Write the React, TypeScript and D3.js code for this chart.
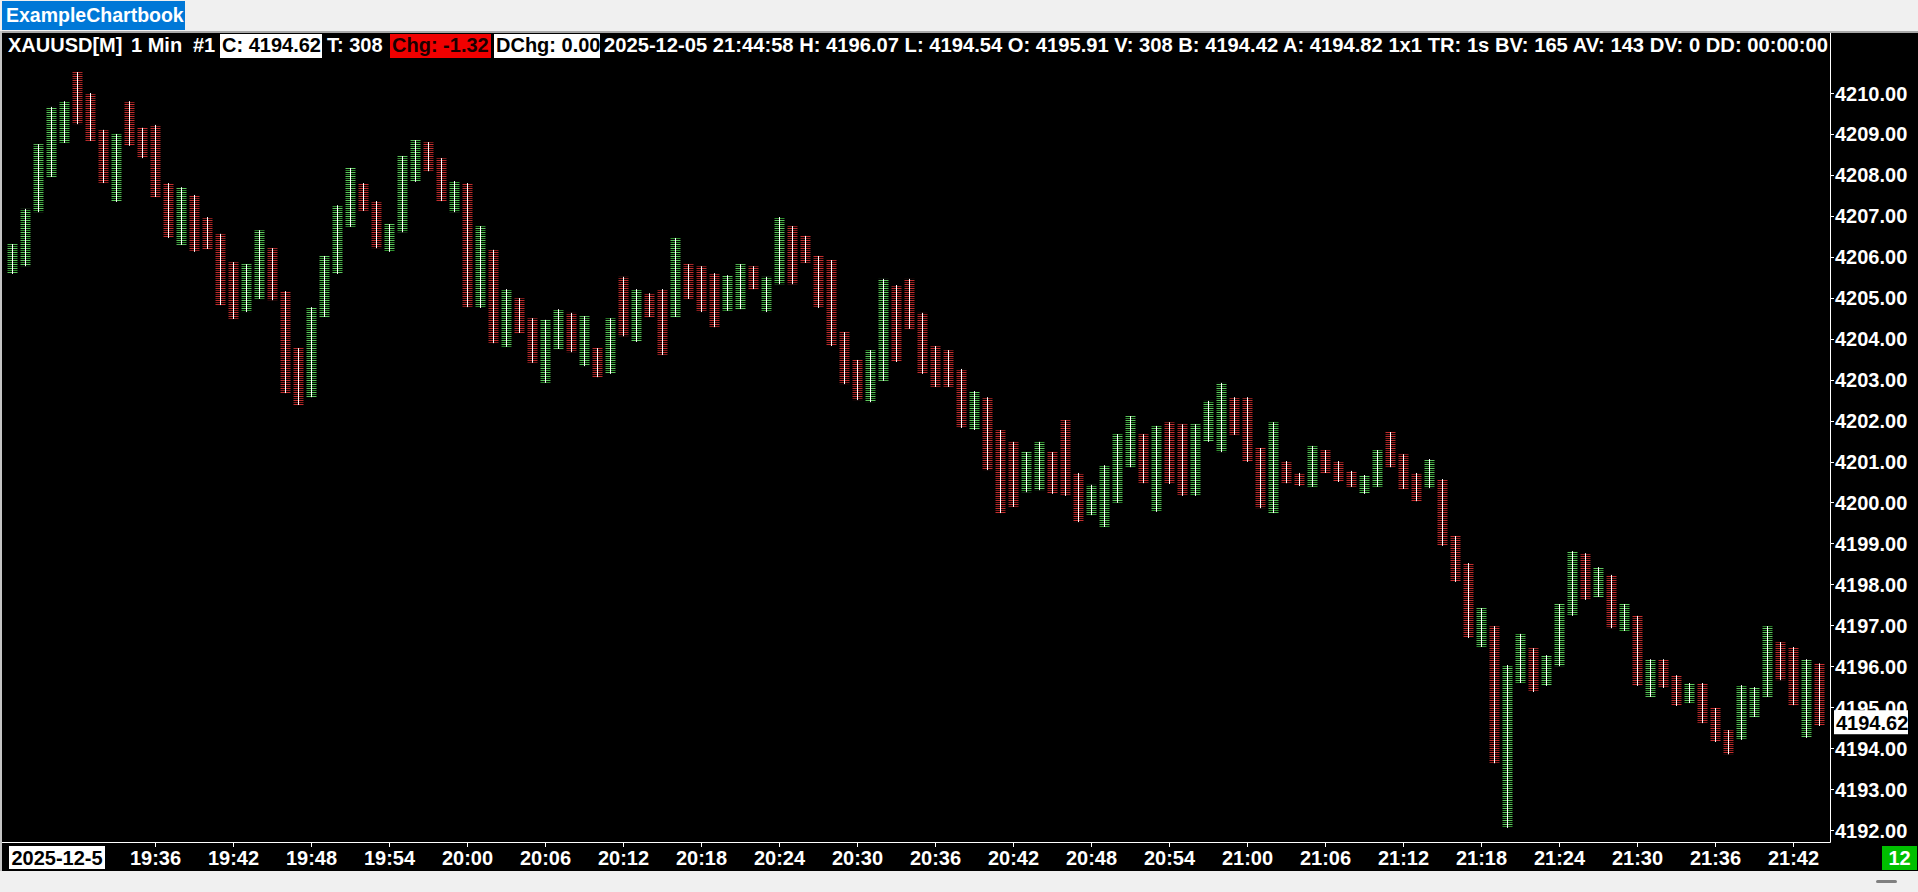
import React from 'react';
import * as d3 from 'd3';

// ---- categories: one bar per minute, 19:25 .. 21:44 ----
const startMinute = 19 * 60 + 25;
const barCount = 140;
const times: string[] = Array.from({ length: barCount }, (_, i) => {
  const m = startMinute + i;
  return `${Math.floor(m / 60)}:${String(m % 60).padStart(2, '0')}`;
});

// ---- series values ----
const highs: number[] = [
  4206.31, 4207.17, 4208.75, 4209.66, 4209.80, 4210.51, 4210.00, 4209.10, 4209.00, 4209.80,
  4209.15, 4209.22, 4207.80, 4207.70, 4207.51, 4206.97, 4206.56, 4205.87, 4205.82, 4206.65,
  4206.21, 4205.16, 4203.77, 4204.77, 4206.02, 4207.26, 4208.17, 4207.80, 4207.36, 4206.80,
  4208.46, 4208.85, 4208.80, 4208.41, 4207.85, 4207.80, 4206.75, 4206.17, 4205.21, 4204.99,
  4204.50, 4204.46, 4204.72, 4204.63, 4204.55, 4203.77, 4204.50, 4205.51, 4205.21, 4205.11,
  4205.21, 4206.46, 4205.82, 4205.77, 4205.60, 4205.55, 4205.82, 4205.77, 4205.51, 4206.97,
  4206.75, 4206.51, 4206.02, 4205.92, 4204.16, 4203.48, 4203.72, 4205.46, 4205.31, 4205.46,
  4204.63, 4203.82, 4203.72, 4203.26, 4202.72, 4202.57, 4201.77, 4201.48, 4201.23, 4201.48,
  4201.23, 4202.01, 4200.72, 4200.43, 4200.91, 4201.67, 4202.11, 4201.67, 4201.87, 4201.96,
  4201.91, 4201.91, 4202.48, 4202.92, 4202.57, 4202.57, 4201.33, 4201.96, 4201.01, 4200.72,
  4201.38, 4201.28, 4201.01, 4200.77, 4200.67, 4201.28, 4201.72, 4201.18, 4200.72, 4201.06,
  4200.57, 4199.18, 4198.52, 4197.42, 4196.98, 4196.03, 4196.79, 4196.44, 4196.27, 4197.52,
  4198.81, 4198.76, 4198.42, 4198.23, 4197.52, 4197.23, 4196.17, 4196.17, 4195.78, 4195.59,
  4195.59, 4194.98, 4194.44, 4195.54, 4195.49, 4196.98, 4196.59, 4196.47, 4196.17, 4196.07,
];

const lows: number[] = [
  4205.58, 4205.77, 4207.09, 4207.95, 4208.78, 4209.24, 4208.83, 4207.80, 4207.34, 4208.71,
  4208.41, 4207.46, 4206.46, 4206.29, 4206.12, 4206.19, 4204.82, 4204.48, 4204.65, 4204.97,
  4204.94, 4202.67, 4202.38, 4202.57, 4204.53, 4205.58, 4206.73, 4207.12, 4206.21, 4206.12,
  4206.60, 4207.83, 4208.09, 4207.36, 4207.09, 4204.77, 4204.75, 4203.89, 4203.80, 4204.14,
  4203.41, 4202.92, 4203.75, 4203.67, 4203.33, 4203.06, 4203.14, 4204.06, 4203.92, 4204.53,
  4203.60, 4204.53, 4204.97, 4204.65, 4204.28, 4204.68, 4204.72, 4205.21, 4204.65, 4205.33,
  4205.33, 4205.85, 4204.75, 4203.82, 4202.89, 4202.50, 4202.45, 4202.97, 4203.43, 4204.24,
  4203.14, 4202.82, 4202.82, 4201.82, 4201.77, 4200.79, 4199.74, 4199.89, 4200.25, 4200.30,
  4200.21, 4200.16, 4199.52, 4199.69, 4199.40, 4199.99, 4200.86, 4200.47, 4199.77, 4200.45,
  4200.16, 4200.16, 4201.48, 4201.23, 4201.65, 4200.99, 4199.86, 4199.74, 4200.47, 4200.40,
  4200.38, 4200.72, 4200.50, 4200.38, 4200.21, 4200.38, 4200.86, 4200.33, 4200.03, 4200.35,
  4198.94, 4198.06, 4196.69, 4196.47, 4193.63, 4192.05, 4195.59, 4195.37, 4195.52, 4196.00,
  4197.23, 4197.62, 4197.69, 4196.93, 4196.86, 4195.52, 4195.25, 4195.47, 4195.03, 4195.10,
  4194.61, 4194.15, 4193.85, 4194.20, 4194.76, 4195.25, 4195.66, 4195.05, 4194.25, 4194.54,
];

// 1 = up (green) bar, 0 = down (red) bar
const upBars: number[] = [
  1, 1, 1, 1, 1, 0, 0, 0, 1, 0,
  0, 0, 0, 1, 0, 0, 0, 0, 1, 1,
  0, 0, 0, 1, 1, 1, 1, 0, 0, 1,
  1, 1, 0, 0, 1, 0, 1, 0, 1, 0,
  0, 1, 1, 0, 1, 0, 1, 0, 1, 0,
  0, 1, 0, 0, 0, 1, 1, 0, 1, 1,
  0, 0, 0, 0, 0, 0, 1, 1, 0, 0,
  0, 0, 0, 0, 1, 0, 0, 0, 1, 1,
  0, 0, 0, 1, 1, 1, 1, 0, 1, 0,
  0, 1, 1, 1, 0, 0, 0, 1, 0, 0,
  1, 0, 0, 0, 1, 1, 0, 0, 0, 1,
  0, 0, 0, 1, 0, 1, 1, 0, 1, 1,
  1, 0, 1, 0, 1, 0, 1, 0, 0, 1,
  0, 0, 0, 1, 1, 1, 0, 0, 1, 0,
];

// ---- tick labels ----
const yTicks: number[] = [4192, 4193, 4194, 4195, 4196, 4197, 4198, 4199, 4200, 4201, 4202, 4203, 4204, 4205, 4206, 4207, 4208, 4209, 4210];
const xTickLabels: string[] = ['19:36', '19:42', '19:48', '19:54', '20:00', '20:06', '20:12', '20:18', '20:24', '20:30', '20:36', '20:42', '20:48', '20:54', '21:00', '21:06', '21:12', '21:18', '21:24', '21:30', '21:36', '21:42'];

// ---- header values ----
const symbol = 'XAUUSD[M]';
const lastClose = 4194.62;
const lastOpen = 4195.91;
const lastHigh = 4196.07;
const lastLow = 4194.54;
const tradeCount = 308;
const change = -1.32;
const dayChange = 0.0;
const bidPrice = 4194.42;
const askPrice = 4194.82;
const bidVol = 165;
const askVol = 143;
const timestamp = '2025-12-05 21:44:58';
const dateLabel = '2025-12-5';
const countdown = '12';

const FONT = 'Liberation Sans, Arial, sans-serif';

export default function App() {
  const W = 1918;
  const H = 892;
  const x = d3.scalePoint<string>().domain(times).range([12.5, 1819.5]);
  const y = d3.scaleLinear().domain([4192, 4210]).range([830, 93]);

  const plotRight = 1830.5;
  const plotBottom = 842.5;

  const seg6 = `${timestamp} H: ${lastHigh.toFixed(2)} L: ${lastLow.toFixed(2)} O: ${lastOpen.toFixed(2)} V: ${tradeCount} B: ${bidPrice.toFixed(2)} A: ${askPrice.toFixed(2)} 1x1 TR: 1s BV: ${bidVol} AV: ${askVol} DV: 0 DD: 00:00:00`;

  return (
    <svg
      width={W}
      height={H}
      style={{ position: 'absolute', left: 0, top: 0, display: 'block' }}
      fontFamily={FONT}
      fontWeight="bold"
    >
      <defs>
        <pattern id="gStripe" patternUnits="userSpaceOnUse" x={0} y={0} width={13} height={4}>
          <rect x={0} y={0} width={13} height={1} fill="#5fc95f" />
          <rect x={0} y={2} width={13} height={1} fill="#2e8e2e" />
        </pattern>
        <pattern id="rStripe" patternUnits="userSpaceOnUse" x={0} y={0} width={13} height={4}>
          <rect x={0} y={0} width={13} height={1} fill="#c42e2e" />
          <rect x={0} y={2} width={13} height={1} fill="#8a1c1c" />
        </pattern>
      </defs>

      {/* window chrome */}
      <rect x={0} y={0} width={W} height={H} fill="#f0f0f0" />
      <rect x={2} y={1} width={183} height={29} fill="#0078d7" />
      <text x={6} y={22} fontSize={19.5} fill="#ffffff">ExampleChartbook</text>
      <rect x={0} y={31} width={W} height={2} fill="#a8a8a8" />
      <rect x={0} y={31} width={2} height={840} fill="#c4c4c4" />
      <rect x={2} y={33} width={W - 2} height={838} fill="#000000" />

      {/* header line */}
      <g fontSize={20}>
        <text x={8} y={52} fill="#fff">{symbol}</text>
        <text x={131} y={52} fill="#fff">1 Min</text>
        <text x={193} y={52} fill="#fff">#1</text>
        <rect x={220} y={34} width={102} height={24} fill="#fff" />
        <text x={222} y={52} fill="#000">{`C: ${lastClose.toFixed(2)}`}</text>
        <text x={327} y={52} fill="#fff">{`T: ${tradeCount}`}</text>
        <rect x={390} y={34} width={101} height={24} fill="#f00000" />
        <text x={392} y={52} fill="#1a0000">{`Chg: ${change.toFixed(2)}`}</text>
        <rect x={494} y={34} width={106} height={24} fill="#fff" />
        <text x={496} y={52} fill="#000">{`DChg: ${dayChange.toFixed(2)}`}</text>
        <text x={604} y={52} fill="#fff" textLength={1224} lengthAdjust="spacingAndGlyphs">{seg6}</text>
      </g>

      {/* bars */}
      <g>
        {times.map((t, i) => {
          const cx = x(t) as number;
          const yt = y(highs[i]);
          const yb = y(lows[i]);
          return (
            <g key={t}>
              <rect
                x={cx - 5}
                y={yt}
                width={10}
                height={Math.max(1, yb - yt)}
                fill={upBars[i] ? 'url(#gStripe)' : 'url(#rStripe)'}
              />
              <line x1={cx} x2={cx} y1={yt} y2={yb} stroke="#ffffff" strokeWidth={1} />
            </g>
          );
        })}
      </g>

      {/* plot border */}
      <line x1={plotRight} x2={plotRight} y1={33} y2={plotBottom} stroke="#fff" strokeWidth={1} />
      <line x1={2} x2={plotRight} y1={plotBottom} y2={plotBottom} stroke="#fff" strokeWidth={1} />

      {/* y axis */}
      <g fontSize={20} fill="#fff">
        {yTicks.map((v) => {
          const yy = Math.round(y(v)) + 0.5;
          return (
            <g key={v}>
              <line x1={plotRight} x2={1834} y1={yy} y2={yy} stroke="#fff" />
              <text x={1835} y={y(v) + 7.5}>{v.toFixed(2)}</text>
            </g>
          );
        })}
      </g>

      {/* last price label */}
      <rect x={1834} y={y(lastClose) - 12.5} width={74} height={24} fill="#fff" />
      <text x={1836} y={y(lastClose) + 7.5} fontSize={20} fill="#000">{lastClose.toFixed(2)}</text>

      {/* x axis */}
      <g fontSize={20} fill="#fff" textAnchor="middle">
        {xTickLabels.map((t) => {
          const xx = x(t) as number;
          return (
            <g key={t}>
              <line x1={xx} x2={xx} y1={plotBottom} y2={847} stroke="#fff" />
              <text x={xx} y={865}>{t}</text>
            </g>
          );
        })}
      </g>
      <rect x={9} y={846} width={96} height={23} fill="#fff" />
      <text x={57} y={865} fontSize={20} fill="#000" textAnchor="middle">{dateLabel}</text>

      <rect x={1882} y={846} width={35} height={24} fill="#00c000" />
      <text x={1899.5} y={865} fontSize={20} fill="#fff" textAnchor="middle">{countdown}</text>

      {/* bottom strip minimize glyph */}
      <rect x={1876} y={880} width={21} height={3} rx={1.5} fill="#808080" />
    </svg>
  );
}
